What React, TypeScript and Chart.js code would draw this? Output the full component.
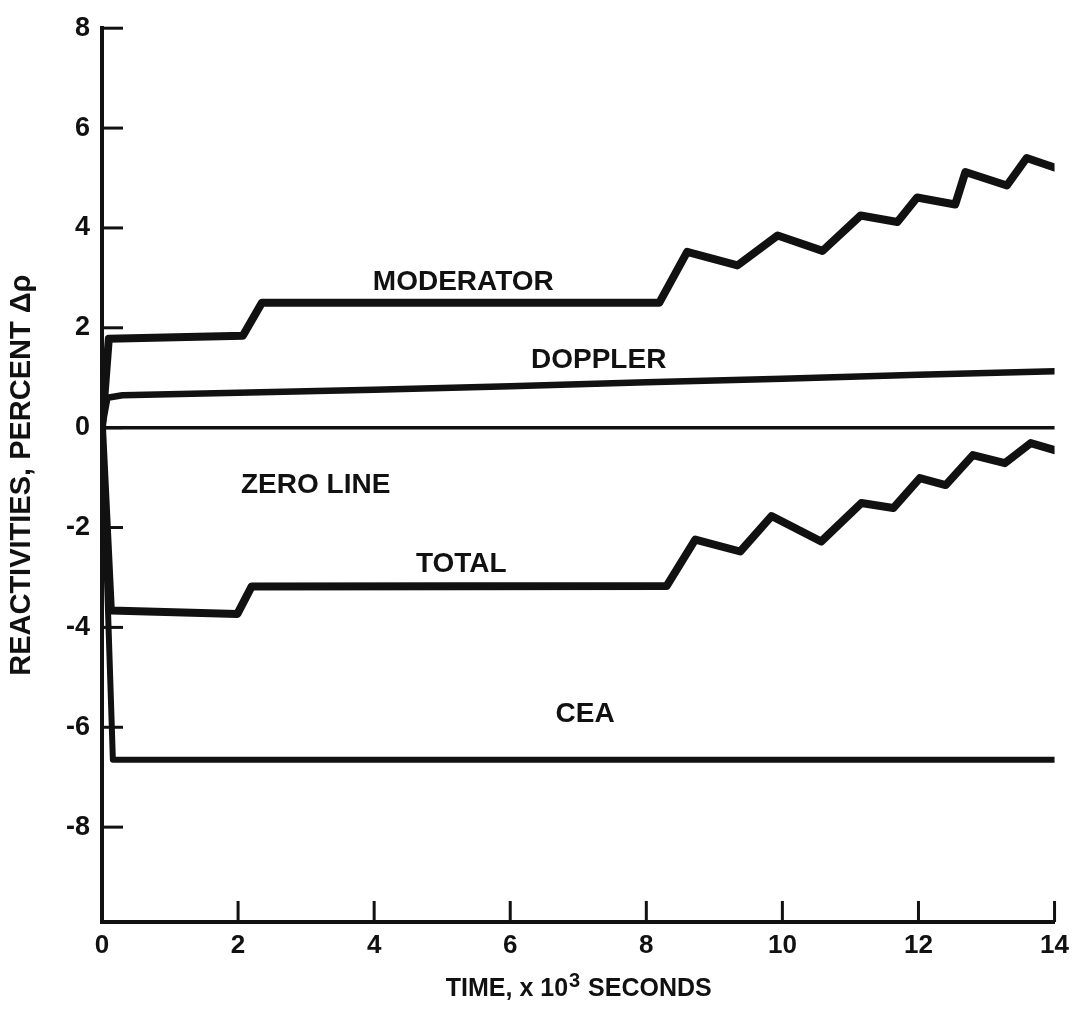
import React, { useEffect, useRef } from "react";
import { Chart, registerables } from "chart.js";

Chart.register(...registerables);

// Time axis in units of 10^3 seconds, reactivities in percent Δρ
const timeModerator = [0, 0.1, 2.07, 2.35, 8.19, 8.6, 9.34, 9.93, 10.59, 11.15, 11.69, 11.98, 12.54, 12.69, 13.3, 13.59, 14.0];
const moderator = [0, 1.78, 1.84, 2.5, 2.5, 3.52, 3.25, 3.85, 3.54, 4.25, 4.12, 4.61, 4.47, 5.12, 4.85, 5.4, 5.21];

const timeDoppler = [0, 0.08, 0.3, 2, 4, 6, 8, 10, 12, 14];
const doppler = [0, 0.6, 0.65, 0.7, 0.76, 0.83, 0.91, 0.98, 1.06, 1.13];

const timeTotal = [0, 0.13, 1.99, 2.2, 8.3, 8.72, 9.38, 9.84, 10.57, 11.16, 11.63, 12.02, 12.4, 12.8, 13.27, 13.65, 14.0];
const total = [0, -3.66, -3.73, -3.18, -3.17, -2.24, -2.48, -1.77, -2.28, -1.51, -1.61, -1.01, -1.15, -0.55, -0.71, -0.31, -0.45];

const timeCea = [0, 0.16, 14];
const cea = [0, -6.65, -6.65];

const timeZero = [0, 14];
const zero = [0, 0];

const xTicks = [0, 2, 4, 6, 8, 10, 12, 14];
const yTicks = [-8, -6, -4, -2, 0, 2, 4, 6, 8];

// Curve names, anchored at (time, reactivity)
const curveNames = ["MODERATOR", "DOPPLER", "ZERO LINE", "TOTAL", "CEA"];
const curveNameTime = [5.31, 7.3, 3.14, 5.28, 7.1];
const curveNameValue = [2.92, 1.34, -1.15, -2.74, -5.75];

// Time-axis title, drawn with a raised exponent
const xTitleParts = ["TIME, x 10", "3", " SECONDS"];

const INK = "#111111";
const FONT = "'Liberation Sans', Arial, Helvetica, sans-serif";

const toPoints = (xs: number[], ys: number[]) => xs.map((x, i) => ({ x, y: ys[i] }));

const innerTicks = {
  id: "innerTicks",
  afterDatasetsDraw(chart: any) {
    const { ctx, scales } = chart;
    const xs = scales.x;
    const ys = scales.y;
    ctx.save();
    ctx.strokeStyle = INK;
    ctx.lineWidth = 3;
    ctx.lineCap = "butt";
    ys.ticks.forEach((t: any) => {
      const py = ys.getPixelForValue(t.value);
      ctx.beginPath();
      ctx.moveTo(xs.left, py);
      ctx.lineTo(xs.left + 21, py);
      ctx.stroke();
    });
    xs.ticks.forEach((t: any) => {
      if (t.value === 0) return;
      const px = xs.getPixelForValue(t.value);
      ctx.beginPath();
      ctx.moveTo(px, ys.bottom);
      ctx.lineTo(px, ys.bottom - 21);
      ctx.stroke();
    });
    ctx.restore();
  },
};

const curveLabels = {
  id: "curveLabels",
  afterDatasetsDraw(chart: any) {
    const { ctx, scales } = chart;
    ctx.save();
    ctx.fillStyle = INK;
    ctx.font = `bold 28px ${FONT}`;
    ctx.textAlign = "center";
    ctx.textBaseline = "middle";
    curveNames.forEach((name, i) => {
      const px = scales.x.getPixelForValue(curveNameTime[i]);
      const py = scales.y.getPixelForValue(curveNameValue[i]);
      ctx.fillText(name, px, py);
    });
    ctx.restore();
  },
};

const timeTitle = {
  id: "timeTitle",
  afterDraw(chart: any) {
    const { ctx, chartArea } = chart;
    const mainFont = `bold 25px ${FONT}`;
    const supFont = `bold 20px ${FONT}`;
    ctx.save();
    ctx.fillStyle = INK;
    ctx.textBaseline = "alphabetic";
    ctx.textAlign = "left";
    ctx.font = mainFont;
    const w0 = ctx.measureText(xTitleParts[0]).width;
    const w2 = ctx.measureText(xTitleParts[2]).width;
    ctx.font = supFont;
    const w1 = ctx.measureText(xTitleParts[1]).width + 1;
    const totalW = w0 + w1 + w2;
    const baseline = 996;
    let x = (chartArea.left + chartArea.right) / 2 - totalW / 2;
    ctx.font = mainFont;
    ctx.fillText(xTitleParts[0], x, baseline);
    x += w0 + 1;
    ctx.font = supFont;
    ctx.fillText(xTitleParts[1], x, baseline - 9);
    x += w1;
    ctx.font = mainFont;
    ctx.fillText(xTitleParts[2], x, baseline);
    ctx.restore();
  },
};

export default function App() {
  const canvasRef = useRef<HTMLCanvasElement | null>(null);

  useEffect(() => {
    document.body.style.margin = "0";
    const canvas = canvasRef.current;
    if (!canvas) return;

    const line = (label: string, xs: number[], ys: number[], width: number) => ({
      label,
      data: toPoints(xs, ys),
      showLine: true,
      borderColor: INK,
      backgroundColor: INK,
      borderWidth: width,
      pointRadius: 0,
      pointHoverRadius: 0,
      tension: 0,
      borderJoinStyle: "round" as const,
      borderCapStyle: "round" as const,
      fill: false,
    });

    const chart = new Chart(canvas, {
      type: "scatter",
      data: {
        datasets: [
          line("Zero line", timeZero, zero, 3.5),
          line("CEA", timeCea, cea, 6),
          line("Doppler", timeDoppler, doppler, 6.5),
          line("Total", timeTotal, total, 8),
          line("Moderator", timeModerator, moderator, 8),
        ],
      },
      options: {
        animation: false,
        responsive: false,
        events: [],
        layout: { padding: { top: 23, right: 20, left: 0, bottom: 0 } },
        plugins: {
          legend: { display: false },
          tooltip: { enabled: false },
        },
        scales: {
          x: {
            type: "linear",
            min: 0,
            max: 14,
            afterBuildTicks: (axis: any) => {
              axis.ticks = xTicks.map((v) => ({ value: v }));
            },
            afterFit: (scale: any) => {
              scale.height = 95;
            },
            grid: { display: false, drawTicks: false },
            border: { display: true, color: INK, width: 4 },
            ticks: {
              color: INK,
              padding: 8,
              maxRotation: 0,
              font: { family: FONT, size: 26, weight: "bold" },
              callback: (v: any) => String(v),
            },
            title: { display: false },
          },
          y: {
            type: "linear",
            min: -9.9,
            max: 8,
            afterBuildTicks: (axis: any) => {
              axis.ticks = yTicks.map((v) => ({ value: v }));
            },
            afterFit: (scale: any) => {
              scale.width = 102;
            },
            grid: { display: false, drawTicks: false },
            border: { display: true, color: INK, width: 4 },
            ticks: {
              color: INK,
              padding: 12,
              font: { family: FONT, size: 27, weight: "bold" },
              callback: (v: any) => String(v),
            },
            title: {
              display: true,
              text: "REACTIVITIES, PERCENT Δρ",
              color: INK,
              font: { family: FONT, size: 29, weight: "bold" },
              padding: { top: 5, bottom: 0 },
            },
          },
        },
      },
      plugins: [innerTicks, curveLabels, timeTitle],
    });

    return () => chart.destroy();
  }, []);

  return (
    <div style={{ width: 1077, height: 1017, background: "#ffffff" }}>
      <canvas ref={canvasRef} width={1077} height={1017} style={{ display: "block" }} />
    </div>
  );
}
